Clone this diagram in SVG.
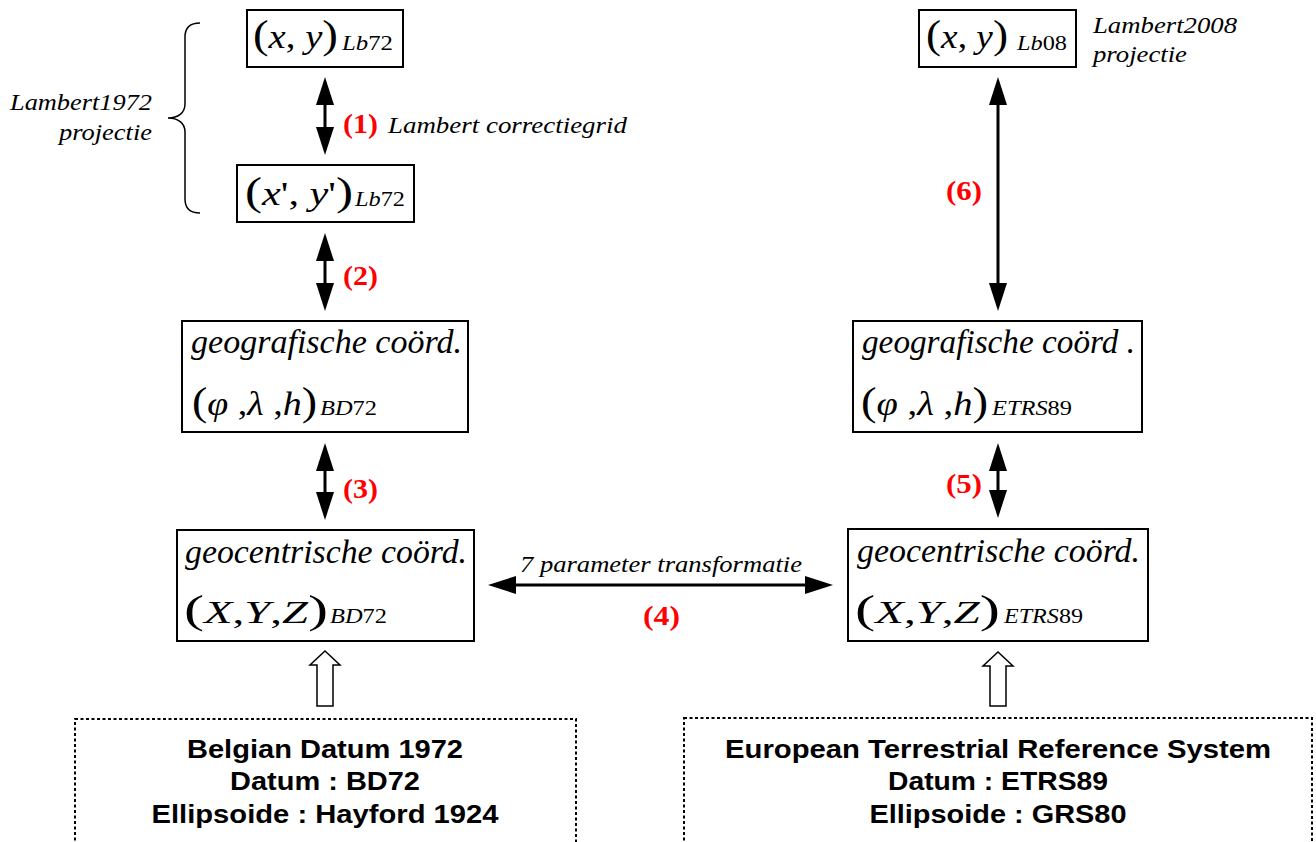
<svg xmlns="http://www.w3.org/2000/svg" width="1316" height="842" viewBox="0 0 1316 842" font-family="Liberation Serif, Times New Roman, serif">
<style>
.box{fill:#fff;stroke:#000;stroke-width:2}
.dot{fill:none;stroke:#000;stroke-width:2;stroke-dasharray:3 2.5}
.t{font-family:Liberation Serif,serif;font-style:italic;fill:#000}
.m{font-family:Liberation Serif,serif;font-size:33px;fill:#000}
.mx{font-size:31px}
.p{font-style:normal;font-size:40px;font-weight:normal}
.i{font-style:italic}
.n{font-style:normal}
.s{font-family:Liberation Serif,serif;font-size:22px;font-style:italic;fill:#000}
.l1{font-size:34px}
.ann{font-size:23px}
.red{font-family:Liberation Serif,serif;font-weight:bold;font-size:28px;fill:#ff0000}
.b{font-family:Liberation Sans,Arial,sans-serif;font-weight:bold;font-size:26px;fill:#000;text-anchor:middle}
.arr{stroke:#000;stroke-width:3;fill:none;marker-start:url(#ah);marker-end:url(#ah)}
.hol{fill:#fff;stroke:#000;stroke-width:1.5}
</style>
<defs>
<marker id="ah" markerUnits="userSpaceOnUse" markerWidth="28" markerHeight="18" refX="7" refY="9" orient="auto-start-reverse" viewBox="0 0 28 18">
<path d="M0,0 L28,9 L0,18 z" fill="#000"/>
</marker>
</defs>

<g id="connectors">
<line class="arr" x1="325" y1="98" x2="325" y2="134"/>
<line class="arr" x1="325" y1="254" x2="325" y2="290"/>
<line class="arr" x1="325" y1="464" x2="325" y2="499"/>
<line class="arr" x1="509" y1="585" x2="812" y2="585"/>
<line class="arr" x1="998" y1="464" x2="998" y2="497"/>
<line class="arr" x1="998" y1="98" x2="998" y2="290"/>
<polygon class="hol" points="325,651 340,665 333,665 333,706 317,706 317,665 310,665"/>
<polygon class="hol" points="998,652 1013,666 1006,666 1006,706 990,706 990,666 983,666"/>
</g>

<g id="labels">
<text class="red" x="343" y="133" textLength="35" lengthAdjust="spacingAndGlyphs">(1)</text>
<text class="t ann" x="388" y="133" textLength="239" lengthAdjust="spacingAndGlyphs">Lambert correctiegrid</text>
<text class="red" x="343" y="285" textLength="35" lengthAdjust="spacingAndGlyphs">(2)</text>
<text class="red" x="343" y="498" textLength="35" lengthAdjust="spacingAndGlyphs">(3)</text>
<text class="t ann" x="520" y="572" textLength="282" lengthAdjust="spacingAndGlyphs">7 parameter transformatie</text>
<text class="red" x="643" y="625" textLength="37" lengthAdjust="spacingAndGlyphs">(4)</text>
<text class="red" x="946" y="493" textLength="36" lengthAdjust="spacingAndGlyphs">(5)</text>
<text class="red" x="946" y="200" textLength="36" lengthAdjust="spacingAndGlyphs">(6)</text>
</g>

<g id="lambert1972-brace">
<path d="M200,23 C190,23 185,27 185,37 L185,104 C185,113 178,118 168,118 C178,118 185,123 185,132 L185,199 C185,209 190,213 200,213" fill="none" stroke="#000" stroke-width="1.5"/>
<text class="t ann" x="10" y="110" textLength="142" lengthAdjust="spacingAndGlyphs">Lambert1972</text>
<text class="t ann" x="59" y="140" textLength="93" lengthAdjust="spacingAndGlyphs">projectie</text>
</g>

<g id="node-xy-lb72">
<rect class="box" x="247" y="10" width="156" height="57"/>
<text class="m" x="253" y="48" textLength="85" lengthAdjust="spacingAndGlyphs"><tspan class="p">(</tspan><tspan class="i">x</tspan>, <tspan class="i">y</tspan><tspan class="p">)</tspan></text>
<text class="s" x="342" y="50" textLength="51" lengthAdjust="spacingAndGlyphs">Lb<tspan class="n">72</tspan></text>
</g>

<g id="node-xpyp-lb72">
<rect class="box" x="237" y="165" width="177" height="57"/>
<text class="m" x="245" y="205" textLength="108" lengthAdjust="spacingAndGlyphs"><tspan class="p">(</tspan><tspan class="i">x</tspan>', <tspan class="i">y</tspan>'<tspan class="p">)</tspan></text>
<text class="s" x="355" y="206" textLength="50" lengthAdjust="spacingAndGlyphs">Lb<tspan class="n">72</tspan></text>
</g>

<g id="node-geo-bd72">
<rect class="box" x="182" y="321" width="286" height="111"/>
<text class="t l1" x="191" y="353" textLength="271" lengthAdjust="spacingAndGlyphs">geografische coörd.</text>
<text class="m" x="192" y="415" textLength="125" lengthAdjust="spacingAndGlyphs"><tspan class="p">(</tspan><tspan class="i">φ</tspan> ,<tspan class="i">λ</tspan> ,<tspan class="i">h</tspan><tspan class="p">)</tspan></text>
<text class="s" x="320" y="415" textLength="57" lengthAdjust="spacingAndGlyphs">BD<tspan class="n">72</tspan></text>
</g>

<g id="node-geocentric-bd72">
<rect class="box" x="177" y="530" width="297" height="111"/>
<text class="t l1" x="185" y="563" textLength="282" lengthAdjust="spacingAndGlyphs">geocentrische coörd.</text>
<text class="m mx" x="184" y="623" textLength="144" lengthAdjust="spacingAndGlyphs"><tspan class="p">(</tspan><tspan class="i">X</tspan>,<tspan class="i">Y</tspan>,<tspan class="i">Z</tspan><tspan class="p">)</tspan></text>
<text class="s" x="330" y="623" textLength="57" lengthAdjust="spacingAndGlyphs">BD<tspan class="n">72</tspan></text>
</g>

<g id="node-xy-lb08">
<rect class="box" x="919" y="10" width="157" height="57"/>
<text class="m" x="926" y="48" textLength="82" lengthAdjust="spacingAndGlyphs"><tspan class="p">(</tspan><tspan class="i">x</tspan>, <tspan class="i">y</tspan><tspan class="p">)</tspan></text>
<text class="s" x="1017" y="50" textLength="50" lengthAdjust="spacingAndGlyphs">Lb<tspan class="n">08</tspan></text>
<text class="t ann" x="1093" y="33" textLength="144" lengthAdjust="spacingAndGlyphs">Lambert2008</text>
<text class="t ann" x="1093" y="62" textLength="94" lengthAdjust="spacingAndGlyphs">projectie</text>
</g>

<g id="node-geo-etrs89">
<rect class="box" x="853" y="321" width="289" height="111"/>
<text class="t l1" x="862" y="353" textLength="273" lengthAdjust="spacingAndGlyphs">geografische coörd .</text>
<text class="m" x="861" y="415" textLength="127" lengthAdjust="spacingAndGlyphs"><tspan class="p">(</tspan><tspan class="i">φ</tspan> ,<tspan class="i">λ</tspan> ,<tspan class="i">h</tspan><tspan class="p">)</tspan></text>
<text class="s" x="992" y="415" textLength="80" lengthAdjust="spacingAndGlyphs">ETRS<tspan class="n">89</tspan></text>
</g>

<g id="node-geocentric-etrs89">
<rect class="box" x="848" y="529" width="300" height="112"/>
<text class="t l1" x="857" y="562" textLength="283" lengthAdjust="spacingAndGlyphs">geocentrische coörd.</text>
<text class="m mx" x="855" y="623" textLength="145" lengthAdjust="spacingAndGlyphs"><tspan class="p">(</tspan><tspan class="i">X</tspan>,<tspan class="i">Y</tspan>,<tspan class="i">Z</tspan><tspan class="p">)</tspan></text>
<text class="s" x="1004" y="623" textLength="79" lengthAdjust="spacingAndGlyphs">ETRS<tspan class="n">89</tspan></text>
</g>

<g id="node-bd72-datum" font-family="Liberation Sans, Arial, sans-serif">
<rect class="dot" x="75" y="719" width="501" height="140"/>
<text class="b" x="325" y="758" textLength="276" lengthAdjust="spacingAndGlyphs">Belgian Datum 1972</text>
<text class="b" x="325" y="790" textLength="190" lengthAdjust="spacingAndGlyphs">Datum : BD72</text>
<text class="b" x="325" y="823" textLength="347" lengthAdjust="spacingAndGlyphs">Ellipsoide : Hayford 1924</text>
</g>

<g id="node-etrs89-datum" font-family="Liberation Sans, Arial, sans-serif">
<rect class="dot" x="684" y="718" width="628" height="140"/>
<text class="b" x="998" y="758" textLength="546" lengthAdjust="spacingAndGlyphs">European Terrestrial Reference System</text>
<text class="b" x="998" y="790" textLength="220" lengthAdjust="spacingAndGlyphs">Datum : ETRS89</text>
<text class="b" x="998" y="823" textLength="257" lengthAdjust="spacingAndGlyphs">Ellipsoide : GRS80</text>
</g>
</svg>
